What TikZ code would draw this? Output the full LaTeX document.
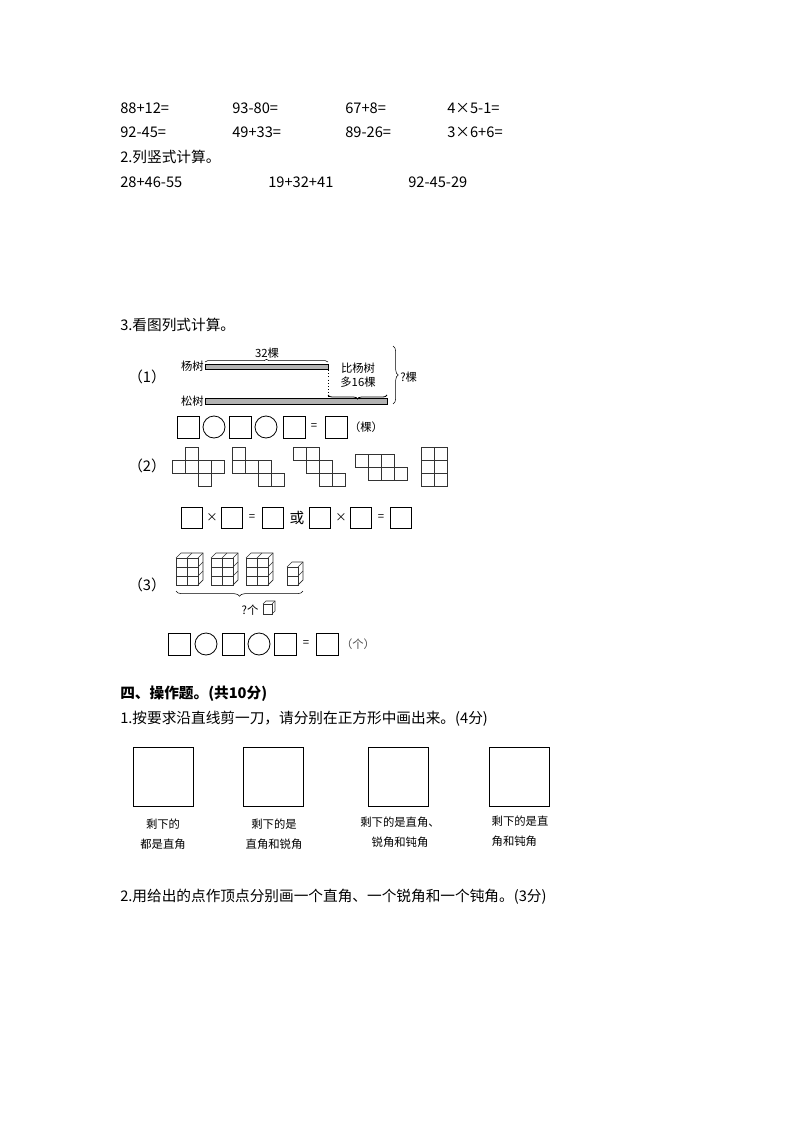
\documentclass[tikz,border=0pt]{standalone}
\usepackage{fontspec}
\setmainfont{Noto Sans CJK SC}
\usetikzlibrary{decorations.pathreplacing}
\begin{document}
\begin{tikzpicture}[x=0.75pt,y=-0.75pt,
 txt/.style={anchor=west,inner sep=0,font=\fontsize{11}{13}\selectfont},
 sm/.style={inner sep=0,font=\fontsize{8.5}{10}\selectfont},
 box/.style={draw,line width=0.6pt},
 grid/.style={draw,line width=0.5pt,gray!40!black}]
\useasboundingbox (0,0) rectangle (794,1123);
% row 1 and 2
\node[txt] (a1) at (120,108) {88+12=};
\node[txt] (a2) at (232,108) {93-80=};
\node[txt] (a3) at (345,108) {67+8=};
\node[txt] (a4) at (447,108) {4×5-1=};
\node[txt] (b1) at (120,132) {92-45=};
\node[txt] (b2) at (232,132) {49+33=};
\node[txt] (b3) at (345,132) {89-26=};
\node[txt] (b4) at (447,132) {3×6+6=};
\node[txt] (q2) at (120,157) {2.列竖式计算。};
\node[txt] (c1) at (120,182) {28+46-55};
\node[txt] (c2) at (268,182) {19+32+41};
\node[txt] (c3) at (408,182) {92-45-29};
\node[txt] (q3) at (120,325) {3.看图列式计算。};
% (1)
\node[txt] (l1) at (128,377) {（1）};
\node[sm,anchor=east] (yang) at (204,366) {杨树};
\node[sm,anchor=east] (song) at (204,401) {松树};
\draw[fill=gray!60,line width=0.5pt] (205,364) rectangle (328,369);
\draw[fill=gray!60,line width=0.5pt] (205,398) rectangle (387,404);
\draw[decorate,decoration={brace,amplitude=2pt}] (205,362) -- (328,362);
\node[sm] (n32) at (267,353) {32棵};
\draw[dotted] (328,370) -- (328,397);
\draw[line width=0.6pt,decorate,decoration={brace,amplitude=3pt}] (387,395) -- (328,395);
\node[sm] (bi1) at (358,368) {比杨树};
\node[sm] (bi2) at (358,382) {多16棵};
\draw[decorate,decoration={brace,amplitude=4pt}] (393,346) -- (393,404);
\node[sm,anchor=west] (qk) at (400,377) {?棵};
\foreach \x in {177,229,283,325} \draw[box] (\x,416) rectangle ++(22,22);
\foreach \x in {214,266} \draw[box] (\x,427) circle (11);
\node[sm] (eq1) at (314,427) {=};
\node[sm] (ke) at (366,427) {（棵）};
% (2)
\node[txt] (l2) at (128,466) {（2）};
\def\c{13}
\foreach \i/\j in {1/0,0/1,1/1,2/1,3/1,2/2} \draw[grid] (172+\i*\c,447+\j*\c) rectangle ++(\c,\c);
\foreach \i/\j in {0/0,0/1,1/1,2/1,2/2,3/2} \draw[grid] (232+\i*\c,447+\j*\c) rectangle ++(\c,\c);
\foreach \i/\j in {0/0,1/0,1/1,2/1,2/2,3/2} \draw[grid] (293+\i*\c,447+\j*\c) rectangle ++(\c,\c);
\foreach \i/\j in {0/0,1/0,2/0,1/1,2/1,3/1} \draw[grid] (355+\i*\c,454+\j*\c) rectangle ++(\c,\c);
\foreach \i/\j in {0/0,1/0,0/1,1/1,0/2,1/2} \draw[grid] (421+\i*\c,447+\j*\c) rectangle ++(\c,\c);
\foreach \x in {181,221,262,309,350,390} \draw[box] (\x,507) rectangle ++(21,21);
\node[sm] (m1) at (212,518) {×};
\node[sm] (m2) at (252,518) {=};
\node[txt,anchor=center] (huo) at (297,518) {或};
\node[sm] (m3) at (341,518) {×};
\node[sm] (m4) at (381,518) {=};
% (3)
\node[txt] (l3) at (128,585) {（3）};
\foreach \bx/\nc/\nr in {176/2/3,211/2/3,246/2/3,287/1/2}{
  \pgfmathsetmacro\w{\nc*11}\pgfmathsetmacro\h{\nr*9}
  \begin{scope}[shift={(\bx,585)}]
  \draw[grid] (0,0) rectangle (\w,-\h);
  \foreach \k in {1,...,\nc} \draw[grid] (\k*11,0) -- (\k*11,-\h);
  \foreach \k in {1,...,\nr} \draw[grid] (0,-\k*9) -- (\w,-\k*9);
  \draw[grid] (0,-\h) -- ++(5,-5) -- ++(\w,0) -- ++(0,\h) -- (\w,0);
  \foreach \k in {1,...,\nc} \draw[grid] (\k*11,-\h) -- ++(5,-5);
  \foreach \k in {1,...,\nr} \draw[grid] (\w,-\k*9+9) -- ++(5,-5);
  \end{scope}}
\draw[decorate,decoration={brace,mirror,amplitude=4pt}] (176,591) -- (303,591);
\node[sm] (qg) at (250,610) {?个};
\draw[grid] (263,604) rectangle (272,614);
\draw[grid] (263,604) -- (266,601) -- (275,601) -- (275,611) -- (272,614);
\draw[grid] (272,604) -- (275,601);
\foreach \x in {168,222,274,316} \draw[box] (\x,633) rectangle ++(22,22);
\foreach \x in {206,259} \draw[box] (\x,644) circle (11);
\node[sm] (eq3) at (306,644) {=};
\node[sm,gray!60!black] (ge) at (358,644) {（个）};
% part 4
\node[txt,font=\fontsize{11}{13}\selectfont\bfseries] (s4) at (120,694) {四、操作题。(共10分)};
\node[txt] (p41) at (120,719) {1.按要求沿直线剪一刀，请分别在正方形中画出来。(4分)};
\foreach \x in {133,243,368,489} \draw[box] (\x,747) rectangle ++(60,59);
\node[sm,align=center,font=\fontsize{8.5}{15}\selectfont] (t1) at (163,834) {剩下的\\都是直角};
\node[sm,align=center,font=\fontsize{8.5}{15}\selectfont] (t2) at (274,834) {剩下的是\\直角和锐角};
\node[sm,align=center,font=\fontsize{8.5}{15}\selectfont] (t3) at (400,832) {剩下的是直角、\\锐角和钝角};
\node[sm,align=left,font=\fontsize{8.5}{15}\selectfont] (t4) at (520,831) {剩下的是直\\角和钝角};
\node[txt] (p42) at (120,897) {2.用给出的点作顶点分别画一个直角、一个锐角和一个钝角。(3分)};
\end{tikzpicture}
\end{document}
